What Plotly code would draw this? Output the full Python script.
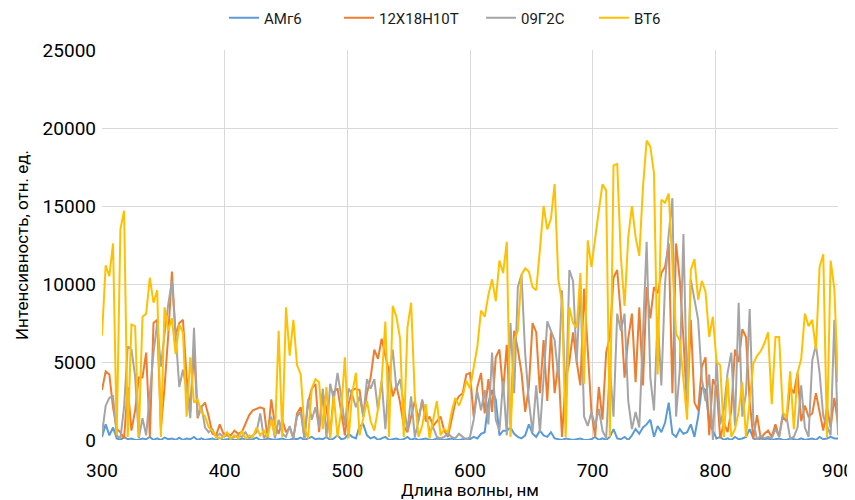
import plotly.graph_objects as go

# Wavelength grid, nm (categories)
wavelength = list(range(300, 901, 3))

# АМг6
amg6 = [
    200, 1000, 300, 800, 100, 0, 200, 50, 100, 0,
    0, 100, 50, 200, 0, 100, 0, 150, 50, 100,
    0, 150, 0, 100, 50, 200, 0, 100, 0, 50,
    100, 0, 150, 0, 50, 100, 0, 0, 100, 50,
    0, 50, 150, 0, 0, 100, 50, 0, 50, 100,
    0, 0, 100, 50, 150, 0, 100, 200, 50, 100,
    50, 200, 0, 100, 300, 50, 100, 400, 200, 100,
    900, 1000, 300, 100, 200, 0, 100, 200, 0, 50,
    100, 0, 50, 200, 0, 100, 0, 50, 100, 0,
    0, 100, 50, 0, 50, 100, 0, 0, 50, 100,
    50, 200, 100, 400, 500, 2400, 3200, 2600, 300, 600,
    600, 800, 400, 200, 100, 300, 1000, 400, 200, 600,
    300, 200, 500, 100, 50, 0, 100, 50, 0, 50,
    100, 0, 0, 50, 200, 0, 100, 0, 200, 700,
    100, 50, 200, 0, 300, 700, 400, 800, 1000, 1300,
    200, 900, 500, 1100, 2400, 400, 200, 700, 400, 500,
    1000, 200, 1500, 3400, 3200, 1100, 600, 100, 200, 0,
    100, 0, 200, 50, 100, 200, 700, 100, 0, 100,
    50, 100, 0, 50, 100, 0, 0, 100, 50, 0,
    100, 0, 50, 100, 0, 200, 50, 100, 200, 100,
    100,
]

# 12Х18Н10Т
x18n10t = [
    3200, 4400, 4200, 2100, 700, 500, 100, 3400, 600, 1900,
    4000, 4000, 5600, 200, 7500, 7700, 700, 3400, 6700, 10800,
    6700, 7500, 7700, 4000, 1800, 5800, 1400, 2100, 2400, 1500,
    400, 300, 1000, 400, 400, 300, 600, 400, 500, 1000,
    1600, 1900, 2000, 2100, 2000, 100, 2600, 1000, 400, 1300,
    500, 800, 100, 1700, 2100, 100, 2400, 3300, 3600, 500,
    3000, 2000, 300, 3100, 3300, 1700, 300, 2300, 3200, 3300,
    3200, 1500, 3000, 4000, 5800, 5200, 6500, 5400, 4400, 2800,
    3500, 2400, 900, 500, 1500, 2500, 1300, 2500, 1200, 1500,
    900, 1200, 1500, 600, 200, 1300, 2400, 2800, 3000, 4200,
    4300, 1500, 3400, 4300, 1700, 3900, 1800, 5300, 5800, 3100,
    6100, 1000, 7000, 5800, 4300, 1800, 3400, 7500, 6900, 3000,
    6400, 2500, 6900, 3000, 4900, 200, 3900, 5000, 6900, 5000,
    3500, 9700, 5500, 1800, 200, 3400, 1300, 5600, 6600, 10400,
    10900, 8000, 4000, 6500, 8100, 3700, 8500, 3500, 9800, 7800,
    9800, 9400, 10700, 11100, 12600, 3000, 12600, 10300, 6500, 2000,
    7700, 2400, 1900, 4700, 5300, 300, 3900, 3400, 100, 1100,
    500, 1900, 5800, 5000, 7100, 6600, 2500, 100, 1600, 100,
    400, 600, 200, 1000, 200, 1500, 1200, 3400, 3000, 4300,
    1200, 2200, 1500, 1700, 3000, 1800, 600, 2100, 800, 2700,
    1000,
]

# 09Г2С
g2s = [
    400, 2200, 2700, 2800, 300, 100, 2100, 6000, 5800, 4100,
    100, 1400, 300, 2800, 5600, 7500, 4700, 6800, 8700, 10200,
    6800, 3400, 4500, 3300, 1400, 7200, 1500, 2200, 800, 500,
    700, 200, 400, 200, 300, 100, 200, 300, 200, 500,
    100, 300, 500, 1700, 100, 500, 1500, 100, 1300, 400,
    200, 900, 100, 1500, 1800, 100, 2600, 1300, 2100, 800,
    3300, 100, 3600, 2600, 4300, 2800, 900, 3300, 2900, 2100,
    2800, 1500, 3900, 3300, 3900, 1900, 3800, 700, 4100, 5800,
    3300, 3900, 2400, 600, 2800, 200, 1200, 2600, 1700, 600,
    800, 200, 100, 200, 400, 200, 100, 400, 200, 0,
    200, 1300, 3100, 1900, 3200, 1000, 5600, 1300, 600, 3800,
    300, 7500, 3000, 9800, 10600, 5500, 2500, 500, 3500, 500,
    4000, 7600, 7000, 6400, 4000, 9600, 2000, 10900, 10200, 5000,
    10000, 1500, 900, 1800, 900, 2000, 600, 100, 4700, 1500,
    8100, 7000, 8100, 2500, 700, 1800, 800, 6200, 12700, 4000,
    1900, 7900, 3500, 10000, 13200, 15500, 1500, 4500, 13200, 2800,
    10300, 9000, 7700, 3900, 2500, 4200, 0, 5100, 1000, 2000,
    4300, 5600, 900, 8800, 1500, 3000, 8400, 1200, 0, 300,
    100, 200, 100, 700, 200, 1700, 1500, 100, 200, 800,
    3500, 800, 200, 5100, 6100, 4300, 1500, 900, 300, 7700,
    300,
]

# ВТ6
vt6 = [
    6700, 11200, 10500, 12600, 300, 13500, 14700, 200, 7400, 7300,
    200, 7900, 8100, 10400, 8800, 9600, 200, 8500, 7000, 7800,
    5500, 7400, 6900, 1500, 5300, 2400, 2600, 1800, 1500, 800,
    600, 200, 100, 200, 500, 100, 300, 100, 600, 100,
    300, 200, 800, 300, 600, 200, 1300, 300, 7000, 200,
    8500, 5400, 7700, 4800, 4200, 800, 100, 3300, 3900, 3700,
    700, 3400, 100, 2800, 200, 1900, 5300, 100, 3000, 4300,
    300, 1500, 2500, 1200, 600, 2000, 3800, 7600, 200, 8600,
    7900, 6500, 200, 7200, 8800, 2800, 200, 900, 2300, 100,
    1400, 2500, 300, 700, 500, 1800, 2700, 2200, 2800, 3800,
    3300, 4700, 6000, 8300, 7900, 9300, 10300, 8900, 11500, 10700,
    12700, 200, 6400, 7000, 10600, 11000, 10800, 9800, 9600, 12200,
    15000, 13500, 14200, 16400, 10300, 8800, 200, 8500, 7500, 7200,
    10700, 3600, 12800, 11100, 13000, 14700, 16400, 16000, 200, 17600,
    17700, 11700, 8600, 13000, 15000, 13000, 11800, 16200, 19200, 18800,
    17100, 4200, 15400, 15200, 15800, 11000, 6800, 6400, 4000, 1300,
    10900, 11600, 9000, 10200, 9500, 6600, 7900, 5000, 4800, 200,
    4000, 200, 700, 1800, 3700, 200, 2500, 4900, 5400, 5700,
    6200, 6900, 2300, 6600, 6600, 1800, 1400, 4400, 700, 4300,
    5200, 8100, 7300, 7700, 5800, 11100, 11900, 200, 11500, 9700,
    3700,
]

series_names = ["АМг6", "12Х18Н10Т", "09Г2С", "ВТ6"]
series_values = [amg6, x18n10t, g2s, vt6]
colors = ["#5B9BD5", "#ED7D31", "#A5A5A5", "#FFC000"]
legend_ids = ["legend", "legend2", "legend3", "legend4"]
legend_line_px = [230, 345, 487, 600]   # where each legend line starts (page px)

x_ticks = [300, 400, 500, 600, 700, 800, 900]
y_ticks = [0, 5000, 10000, 15000, 20000, 25000]

FONT = "Roboto, Liberation Sans, sans-serif"

# page has an 8px body margin; size the figure so it ends at 855x500
OFF = 8
W, H = 855 - OFF, 500 - OFF
L, T, R, B = 102 - OFF, 50 - OFF, 17, 60

fig = go.Figure()
for name, vals, col, lid in zip(series_names, series_values, colors, legend_ids):
    fig.add_trace(go.Scatter(
        x=wavelength[:len(vals)], y=vals, mode="lines", name=name,
        line=dict(color=col, width=2), legend=lid,
    ))

legend_common = dict(
    orientation="h", yanchor="middle", xanchor="left",
    xref="container", yref="container",
    font=dict(family=FONT, size=15, color="#1a1a1a"),
    bgcolor="rgba(0,0,0,0)", borderwidth=0, itemwidth=30,
)
layout_legends = {}
for lid, px in zip(legend_ids, legend_line_px):
    layout_legends[lid] = dict(legend_common,
                               x=(px - OFF - 6) / W,
                               y=1 - (18 - OFF) / H)

fig.update_layout(
    width=W, height=H,
    margin=dict(l=L, r=R, t=T, b=B, pad=0, autoexpand=False),
    paper_bgcolor="white", plot_bgcolor="white",
    font=dict(family=FONT, size=19, color="#000000"),
    showlegend=True,
    xaxis=dict(
        range=[300, 900], tickvals=x_ticks, ticktext=[str(v) for v in x_ticks],
        showgrid=True, gridcolor="#d9d9d9", gridwidth=1,
        zeroline=False, showline=False, ticks="", ticklabelstandoff=17,
        tickfont=dict(family=FONT, size=19, color="#000"),
        title=dict(text="Длина волны, нм", font=dict(family=FONT, size=17, color="#000"), standoff=4),
    ),
    yaxis=dict(
        range=[0, 25000], tickvals=y_ticks, ticktext=[str(v) for v in y_ticks],
        showgrid=True, gridcolor="#d9d9d9", gridwidth=1,
        zeroline=False, showline=False, ticks="", ticklabelstandoff=5,
        tickfont=dict(family=FONT, size=19, color="#000"),
        title=dict(text="Интенсивность, отн. ед.", font=dict(family=FONT, size=17, color="#000"), standoff=9),
    ),
    **layout_legends,
)

fig.write_html("out.html")
